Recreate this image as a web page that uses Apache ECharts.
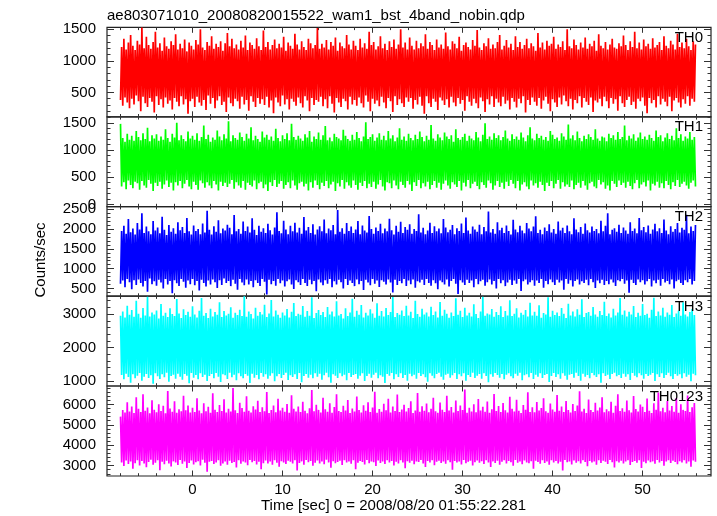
<!DOCTYPE html>
<html><head><meta charset="utf-8">
<script src="https://cdn.jsdelivr.net/npm/echarts@6/dist/echarts.min.js"></script>
<style>html,body{margin:0;padding:0;background:#fff}#c{width:717px;height:516px}</style>
</head><body><div id="c"></div>
<script>
// time grid of the light curve (seconds)
const tStart = -8, tStep = 0.125;
const xMin = -9.5, xMax = 57.6;
const xMajor = [0, 10, 20, 30, 40, 50];

// Counts/sec values (rapidly fluctuating light curves)
const th0 = [
380,1220,290,1350,420,1180,340,1290,250,1410,400,1240,310,1170,450,1320,
360,1260,200,1530,430,1200,330,1380,270,1250,410,1190,350,1300,180,1460,
440,1210,300,1280,390,1160,260,1370,420,1230,320,1190,370,1310,230,1250,
410,1420,350,1180,280,1270,440,1200,310,1340,390,1150,160,1290,360,1240,
400,1180,270,1330,430,1260,340,1500,290,1210,380,1170,220,1300,450,1240,
320,1390,410,1190,250,1270,370,1220,440,1310,300,1160,350,1280,190,1440,
420,1230,330,1350,280,1200,400,1260,360,1180,240,1320,430,1210,310,1400,
380,1170,210,1290,440,1250,350,1190,270,1360,410,1230,320,1170,390,1480,
300,1220,430,1300,260,1180,370,1250,170,1340,420,1200,340,1270,280,1210,
450,1380,310,1160,390,1290,230,1240,400,1190,350,1430,290,1260,420,1180,
330,1310,260,1220,440,1170,370,1350,200,1280,410,1200,300,1250,380,1520,
350,1190,430,1270,280,1210,390,1330,250,1180,440,1300,320,1240,180,1370,
410,1160,340,1290,270,1230,400,1200,360,1410,230,1260,430,1180,310,1320,
380,1240,290,1170,420,1350,330,1210,260,1280,450,1190,350,1460,200,1250,
400,1300,320,1180,370,1230,280,1390,430,1200,340,1270,250,1170,410,1310,
360,1220,190,1340,440,1190,300,1260,390,1500,330,1210,270,1290,420,1180,
350,1370,410,1240,240,1180,380,1320,310,1200,430,1280,290,1230,160,1420,
440,1190,330,1300,270,1250,400,1170,350,1340,220,1210,420,1260,370,1190,
300,1450,390,1230,260,1180,430,1310,340,1270,280,1200,410,1380,320,1160,
380,1250,210,1290,440,1220,350,1180,290,1330,400,1240,330,1490,250,1210,
420,1170,360,1280,190,1230,390,1360,310,1190,440,1260,270,1200,400,1300,
340,1410,280,1180,430,1240,320,1330,370,1210,230,1270,410,1170,350,1390,
260,1220,400,1300,330,1190,440,1250,180,1350,380,1200,300,1280,420,1230,
350,1160,290,1440,410,1210,240,1290,370,1180,430,1320,320,1240,200,1270,
390,1380,340,1190,270,1260,420,1220,310,1310,450,1170,360,1500,280,1230,
400,1200,230,1340,380,1250,330,1180,440,1290,260,1210,410,1370,350,1190,
300,1270,420,1230,190,1320,370,1160,340,1420,400,1240,280,1200,430,1300,
360,1180,250,1260,410,1350,320,1210,390,1190,210,1280,440,1230,330,1400,
270,1250,380,1170,430,1310,300,1220,350,1460,240,1200,400,1290,360,1180,
420,1340,290,1230,170,1270,410,1190,330,1360,380,1210,260,1250,440,1300,
310,1170,400,1390,350,1240,280,1200,430,1320,200,1260,370,1180,410,1430,
340,1220,260,1290,390,1200,320,1350,440,1230,290,1170,400,1310,350,1260];

const th1 = [
1480,330,1220,410,1150,280,1300,440,1190,360,1260,300,1170,420,1350,390,
1240,270,1180,430,1310,350,1200,310,1410,450,1160,380,1270,250,1210,400,
1290,340,1170,420,1250,290,1190,370,1380,440,1220,320,1150,400,1300,260,
1230,410,1500,350,1180,430,1270,300,1200,380,1160,450,1340,330,1210,280,
1260,420,1190,360,1310,270,1170,440,1240,390,1450,310,1200,410,1280,350,
1150,300,1230,430,1190,370,1360,260,1250,420,1180,340,1290,400,1210,320,
1530,380,1160,450,1270,290,1220,410,1190,350,1320,310,1240,430,1170,270,
1300,400,1210,360,1420,330,1180,440,1260,280,1200,390,1150,420,1340,300,
1230,370,1280,250,1190,410,1250,340,1170,450,1390,320,1220,380,1160,430,
1270,290,1200,360,1310,410,1180,300,1480,440,1240,350,1190,270,1260,390,
1210,420,1170,330,1290,380,1230,260,1350,410,1150,310,1250,440,1200,360,
1320,280,1190,400,1270,340,1440,430,1180,300,1230,370,1160,420,1300,250,
1240,390,1210,330,1180,450,1370,290,1260,410,1200,350,1170,310,1280,440,
1190,360,1330,270,1220,400,1160,340,1250,430,1510,300,1200,380,1240,320,
1290,420,1170,290,1230,370,1310,450,1190,330,1260,260,1180,410,1350,390,
1210,300,1270,440,1160,350,1230,280,1400,420,1190,360,1250,310,1170,430,
1300,370,1220,250,1180,410,1280,340,1200,450,1340,300,1240,390,1160,330,
1260,420,1190,280,1460,360,1210,430,1170,310,1290,400,1230,270,1180,380,
1320,440,1250,350,1200,290,1270,410,1150,370,1380,320,1220,430,1190,260,
1240,400,1300,330,1170,450,1260,300,1210,380,1180,420,1330,340,1230,280,
1160,410,1280,360,1490,310,1200,440,1250,390,1190,270,1310,350,1220,430,
1270,320,1180,400,1240,290,1360,420,1210,340,1170,450,1290,380,1200,300,
1250,430,1190,260,1320,370,1230,410,1160,330,1270,280,1420,440,1210,350,
1180,390,1300,310,1220,420,1260,360,1190,250,1240,400,1170,340,1350,430,
1280,300,1200,380,1230,450,1170,290,1310,410,1250,330,1190,370,1470,320,
1210,440,1270,280,1180,360,1340,400,1220,310,1160,430,1260,350,1200,270,
1290,390,1240,420,1190,330,1380,300,1210,450,1170,370,1250,410,1230,290,
1160,350,1300,260,1220,430,1270,380,1190,320,1330,440,1200,360,1240,400,
1450,310,1180,420,1260,340,1210,280,1290,390,1170,450,1230,300,1320,370,
1200,410,1250,330,1190,440,1280,260,1220,380,1170,350,1360,420,1240,310,
1270,390,1160,300,1230,430,1310,360,1200,280,1260,410,1180,340,1400,450,
1220,320,1290,380,1170,420,1250,350,1210,290,1330,400,1190,440,1240,330];

const th2 = [
620,1950,700,2080,530,1880,740,2250,660,1920,480,2010,710,1860,590,2150,
730,1990,640,2400,550,1900,690,2060,420,1940,750,1870,610,2200,680,1960,
570,2040,720,1890,650,2310,500,1980,740,1850,600,2100,690,1930,380,2020,
710,1880,630,2170,560,1970,740,2050,670,1900,520,2280,700,1940,610,1860,
740,2090,580,1950,690,2000,450,1870,720,2140,640,1910,550,2460,700,1980,
600,1860,730,2070,660,1930,510,2220,710,1890,590,2010,750,1960,640,2110,
690,2030,560,1870,720,2350,620,1940,470,2000,740,1880,650,2190,580,1950,
730,2060,600,1910,690,2270,530,1980,710,1850,640,2080,560,1930,740,2020,
670,1900,350,2130,720,1970,610,1860,690,2040,570,2420,740,1950,630,1890,
700,2210,550,1990,680,1870,730,2080,600,1940,490,2160,710,1910,660,2030,
590,1880,740,2300,640,1960,560,2050,720,1900,610,2120,690,1860,430,1990,
730,2070,650,1940,580,2240,710,1890,620,2010,740,1970,530,2100,680,1870,
600,2480,720,1930,660,2020,500,1880,740,2150,590,1950,700,2060,640,1900,
560,1990,730,2200,610,1870,690,2090,460,1960,720,1910,650,2330,580,2000,
740,1880,620,2040,700,1950,540,2130,710,1890,670,2010,600,1940,730,2260,
650,1970,400,1860,720,2080,590,1930,690,2180,630,1900,740,2050,560,1980,
700,2120,610,1880,730,2000,520,1950,680,2370,650,1910,720,2030,590,1870,
740,1960,640,2160,570,1900,710,2070,630,1940,480,2010,700,1890,660,2250,
600,2040,730,1920,550,1980,690,2100,740,1870,620,2020,360,1950,710,2140,
650,1900,590,2290,720,1960,640,1880,700,2060,530,1990,740,1930,610,2110,
680,1870,720,2050,570,1940,660,2440,730,1910,600,2000,690,1880,500,2170,
740,1970,630,2030,710,1900,560,2090,650,1950,720,1860,590,2230,700,1990,
620,1920,740,2080,440,1960,680,1890,730,2150,600,2010,660,1940,710,2060,
570,2320,700,1900,640,1980,740,1870,520,2040,690,1950,610,2120,730,1910,
660,2000,590,1880,720,2190,650,1960,700,2030,470,1900,740,2090,620,1940,
710,1870,550,2270,690,1990,730,1920,600,2050,680,1880,640,2140,720,1970,
580,1910,740,2060,660,1950,510,2000,700,1890,630,2210,720,1940,590,2080,
690,2400,610,1870,730,1980,650,2020,560,1930,710,2110,680,1900,740,2040,
620,1960,700,1880,390,2170,720,1950,640,2010,590,1890,730,2280,660,1970,
710,2050,600,1920,680,2090,740,1880,550,1990,700,2130,630,1940,720,2020,
570,1900,740,2240,650,1960,690,1870,610,2070,730,1930,500,2000,680,2150,
720,1910,640,2030,590,1980,710,2360,660,1890,740,2060,600,1950,690,2100];

const th3 = [
2950,1180,3080,1050,2900,1220,3250,1120,2980,950,3120,1200,2920,1080,3400,1160,
3010,1240,2890,1010,3180,1130,2960,1210,3520,1090,2930,1170,3050,920,2990,1230,
3110,1140,2870,1060,3300,1200,2950,1110,3040,1250,2910,980,3170,1150,3000,1190,
2940,1070,3450,1220,3020,1130,2880,1040,3140,1210,2970,1160,3070,930,2920,1240,
3230,1100,2990,1180,2900,1050,3100,1230,3480,1120,2950,1190,3030,1000,2880,1150,
3160,1210,2930,1080,3060,1240,2980,1130,3350,970,2910,1200,3090,1170,2960,1060,
3010,1250,3200,1110,2890,1190,3040,1020,2970,1230,3130,1140,2940,1080,3530,1210,
2920,1160,3080,940,3000,1220,2870,1100,3190,1180,2950,1050,3060,1240,2990,1130,
3280,1200,2910,1070,3020,1160,3420,1230,2930,990,3110,1140,2980,1210,2890,1090,
3050,1180,2960,1250,3150,1030,2900,1170,3070,1120,3330,1200,2940,1060,3010,1240,
2980,960,3240,1150,2920,1210,3090,1100,2950,1190,3500,1080,2880,1230,3030,1130,
3120,1220,2970,1040,3060,1170,2910,1250,3210,1110,2990,950,3080,1200,2930,1160,
3380,1090,2960,1230,3000,1140,2870,1190,3170,1020,2940,1240,3050,1120,3460,1180,
2920,1210,3100,1070,2980,1160,3270,1230,2900,1000,3040,1150,2960,1220,3140,1100,
3020,1190,2890,1250,3320,1080,2950,1170,3090,1130,2930,940,3180,1210,2970,1160,
3060,1240,3510,1050,2910,1200,3030,1120,2980,1230,3110,1090,2940,1180,3250,1010,
2960,1220,3070,1140,2880,1190,3400,1070,3000,1240,2920,1150,3160,1200,2990,1110,
3050,980,2930,1230,3220,1160,2970,1080,3080,1210,2900,1250,3360,1130,2950,1040,
3130,1190,3010,1220,2890,1100,3050,1170,2940,1240,3470,1060,2980,1200,3100,1140,
2910,1230,3190,1010,2960,1180,3040,1120,2930,1250,3290,1090,3000,1160,2880,1210,
3080,1070,3520,1230,2950,1150,3020,960,2990,1200,3150,1130,2920,1240,3060,1180,
2970,1100,3230,1210,2910,1050,3090,1190,2960,1230,3410,1140,2940,1080,3010,1220,
3170,1160,2900,1250,3040,1020,2980,1170,3120,1200,2930,1110,3340,1240,2960,1060,
3070,1190,2950,1130,3260,1230,2890,1090,3030,1180,2990,1210,3500,970,2920,1150,
3100,1240,2970,1120,3050,1200,2940,1070,3180,1230,3010,1160,2880,1040,3310,1190,
2960,1210,3080,1100,2930,1250,3140,1150,2980,1010,3440,1220,2910,1130,3030,1180,
3060,1080,2950,1240,3210,1170,2990,1120,2920,1200,3090,950,2970,1230,3370,1150,
2940,1190,3020,1060,2900,1210,3160,1250,2960,1140,3050,1180,3480,1090,2980,1220,
3110,1130,2930,1200,3070,1030,2990,1240,3240,1160,2910,1110,3040,1230,2950,1170,
3300,1070,2970,1210,3010,1150,2890,1190,3130,1240,3490,1000,2940,1200,3080,1120,
2960,1230,3190,1090,2920,1180,3050,1250,2980,1140,3270,1060,2910,1210,3020,1160,
3100,1200,2950,1080,3350,1230,2990,1130,2930,1190,3060,990,3150,1220,2970,1170];

const th0123 = [
5400,3150,5720,2980,5600,3250,6100,3080,5650,3200,5900,2850,5580,3120,6350,3270,
5780,3010,5620,3230,6500,3100,5690,2920,5850,3180,5560,3290,6200,3050,5740,3140,
5610,3260,6000,2780,5680,3190,5930,3070,5570,3240,6650,3110,5800,2960,5640,3210,
6150,3160,5590,3030,5760,3280,5660,3090,6420,3200,5710,2880,5950,3130,5600,3250,
5830,3060,5620,3170,6300,3220,5700,3010,5570,3290,6050,3140,5660,2700,5880,3190,
5590,3230,6550,3080,5740,3160,5630,3270,5970,2990,5680,3110,6250,3200,5600,3050,
5790,3240,5650,3130,6800,3180,5710,2910,5580,3260,6080,3090,5820,3210,5640,3150,
6400,3020,5690,3280,5600,3170,5910,3230,5750,3060,6180,3190,5620,2830,5860,3120,
5660,3250,6600,3100,5580,3200,5730,3040,5950,3270,5610,3140,6280,2950,5700,3220,
5840,3160,5640,3080,6020,3240,5590,3190,6450,3110,5780,3260,5650,2760,5900,3130,
5620,3210,6130,3050,5690,3280,5570,3170,5810,3230,6700,3000,5660,3140,5980,3250,
5730,3100,5600,3200,6330,3070,5760,3290,5640,3160,6060,2900,5590,3220,5870,3120,
6500,3180,5680,3240,5620,3030,5930,3270,5700,3150,6210,3200,5580,3090,5800,3260,
5650,2820,6380,3140,5720,3230,5600,3180,5960,3060,5690,3280,6100,3120,5630,3210,
5850,3170,6620,2980,5590,3250,5770,3130,5640,3200,6030,3080,5710,3270,6270,3150,
5600,3230,5890,3010,5670,3190,6480,3110,5620,3260,5750,3160,5980,2870,5650,3220,
5820,3140,6150,3240,5580,3070,5700,3200,6560,3180,5640,3280,5910,3100,5690,2940,
6040,3230,5610,3150,5790,3260,6320,3020,5660,3190,5590,3240,6090,3130,5740,3210,
5630,3090,6420,3270,5700,3170,5870,2800,5600,3230,6190,3150,5680,3200,5950,3060,
5720,3280,6730,3120,5590,3190,5830,3240,5650,3010,6010,3170,5610,3250,6260,3140,
5700,3220,5880,3080,5640,3270,6140,3160,5590,2930,5760,3210,6510,3130,5670,3240,
5920,3050,5620,3190,6070,3260,5710,3110,5600,3230,6370,3170,5780,2990,5650,3280,
6220,3140,5690,3200,5580,3070,5970,3250,5740,3160,6590,3120,5630,3220,5860,2850,
5610,3240,6110,3180,5700,3090,5820,3270,6300,3130,5660,3200,5590,3040,6040,3260,
5750,3150,5640,3230,6460,3110,5690,3190,5900,2760,5620,3280,6170,3170,5730,3210,
5600,3060,6020,3250,5680,3140,5940,3220,6640,3100,5650,3270,5790,3180,5580,2970,
6240,3230,5720,3160,5630,3200,6080,3050,5700,3260,5850,3130,6350,3240,5610,3190,
5760,3080,5660,3280,6130,3170,5590,2910,5930,3220,6490,3150,5680,3240,5810,3110,
5640,3200,6190,3270,5710,3030,5600,3180,6410,3230,5770,3140,5650,3260,5990,2880,
5880,3190,5620,3120,6290,3250,5690,3170,5580,3210,6050,3090,5740,3280,6580,3150,
5660,3230,5830,3000,5610,3200,6160,3260,5700,3130,5920,3240,5640,3180,6310,3070,
5590,3220,6010,3160,5730,3270,5680,3110,6440,3200,5620,2950,5860,3250,6070,3190];

// panel labels, colours and y tick labels
const bandNames = ['TH0', 'TH1', 'TH2', 'TH3', 'TH0123'];
const bandColors = ['#ff0000', '#00ff00', '#0000ff', '#00ffff', '#ff00ff'];
const bandData = [th0, th1, th2, th3, th0123];
const yMajor = [
  [500, 1000, 1500],
  [0, 500, 1000, 1500],
  [500, 1000, 1500, 2000, 2500],
  [1000, 2000, 3000],
  [3000, 4000, 5000, 6000]
];
const yMinorStep = [100, 100, 100, 200, 200];
const yMin = [113, -38, 308, 851, 2493];
const yMax = [1532, 1610, 2565, 3537, 6900];

// layout
const gridTop = [27.3, 116.8, 206.6, 296.1, 386];
const gridBottom = 476;
const FONT = 'Liberation Sans, Arial, Helvetica, sans-serif';
const tickColor = '#333';

function range(a, b, s) { const r = []; for (let v = a; v <= b + 1e-9; v += s) r.push(v); return r; }
const xMinor = range(-8, 56, 2);
const plain = v => String(v);

const grids = [], xAxes = [], yAxes = [], series = [], graphics = [];

bandNames.forEach((name, k) => {
  const top = gridTop[k];
  const h = (k < 4 ? gridTop[k + 1] : gridBottom) - top;
  grids.push({ left: 107, width: 604, top: top, height: h, show: true,
    borderColor: '#222', borderWidth: 1.2, backgroundColor: 'transparent',
    containLabel: false, outerBoundsMode: 'none' });

  const xBase = xAxes.length;
  const mkX = (pos, vals, len, labels) => ({
    type: 'value', gridIndex: k, position: pos, min: xMin, max: xMax,
    axisLine: { show: false, onZero: false },
    splitLine: { show: false },
    axisTick: { show: true, inside: true, length: len, customValues: vals,
      lineStyle: { color: tickColor, width: 1 } },
    axisLabel: { show: labels, customValues: xMajor, margin: 6, color: '#000', formatter: plain,
      fontSize: 15, fontFamily: FONT, showMinLabel: true, showMaxLabel: true }
  });
  xAxes.push(mkX('bottom', xMajor, 5.5, k === 4));
  xAxes.push(mkX('bottom', xMinor, 2.8, false));
  xAxes.push(mkX('top', xMajor, 5.5, false));
  xAxes.push(mkX('top', xMinor, 2.8, false));

  const yBase = yAxes.length;
  const minors = range(Math.ceil(yMin[k] / yMinorStep[k]) * yMinorStep[k], yMax[k], yMinorStep[k]);
  const mkY = (pos, vals, len, labels) => ({
    type: 'value', gridIndex: k, position: pos, min: yMin[k], max: yMax[k], offset: 0,
    axisLine: { show: false, onZero: false },
    splitLine: { show: false },
    axisTick: { show: true, inside: true, length: len, customValues: vals,
      lineStyle: { color: tickColor, width: 1 } },
    axisLabel: { show: labels, customValues: yMajor[k], margin: 11, color: '#000', formatter: plain,
      fontSize: 15, fontFamily: FONT, showMinLabel: true, showMaxLabel: true }
  });
  yAxes.push(mkY('left', yMajor[k], 7, true));
  yAxes.push(mkY('left', minors, 3.5, false));
  yAxes.push(mkY('right', yMajor[k], 7, false));
  yAxes.push(mkY('right', minors, 3.5, false));

  series.push({
    type: 'line', name: name, xAxisIndex: xBase, yAxisIndex: yBase,
    data: bandData[k].map((v, i) => [tStart + i * tStep, v]),
    symbol: 'none', showSymbol: false, silent: true, clip: true,
    lineStyle: { color: bandColors[k], width: 1.7 },
    itemStyle: { color: bandColors[k] }
  });

  graphics.push({ type: 'text', x: 703, y: top + 10.5, silent: true, z: 100,
    style: { text: name, fill: '#000', font: '15px ' + FONT, textAlign: 'right', textVerticalAlign: 'middle' } });
});

graphics.push({ type: 'text', x: 107, y: 15.5, silent: true,
  style: { text: 'ae803071010_20080820015522_wam1_bst_4band_nobin.qdp', fill: '#000',
    font: '15px ' + FONT, textAlign: 'left', textVerticalAlign: 'middle' } });
graphics.push({ type: 'text', x: 261, y: 505.5, silent: true,
  style: { text: 'Time [sec] 0 = 2008/08/20 01:55:22.281', fill: '#000',
    font: '15px ' + FONT, textAlign: 'left', textVerticalAlign: 'middle' } });
graphics.push({ type: 'text', x: 41, y: 260, rotation: Math.PI / 2, silent: true,
  style: { text: 'Counts/sec', fill: '#000',
    font: '15px ' + FONT, textAlign: 'center', textVerticalAlign: 'middle' } });

const chart = echarts.init(document.getElementById('c'), null, { renderer: 'canvas' });
chart.setOption({
  animation: false,
  backgroundColor: '#fff',
  grid: grids,
  xAxis: xAxes,
  yAxis: yAxes,
  series: series,
  graphic: graphics
});
</script></body></html>
